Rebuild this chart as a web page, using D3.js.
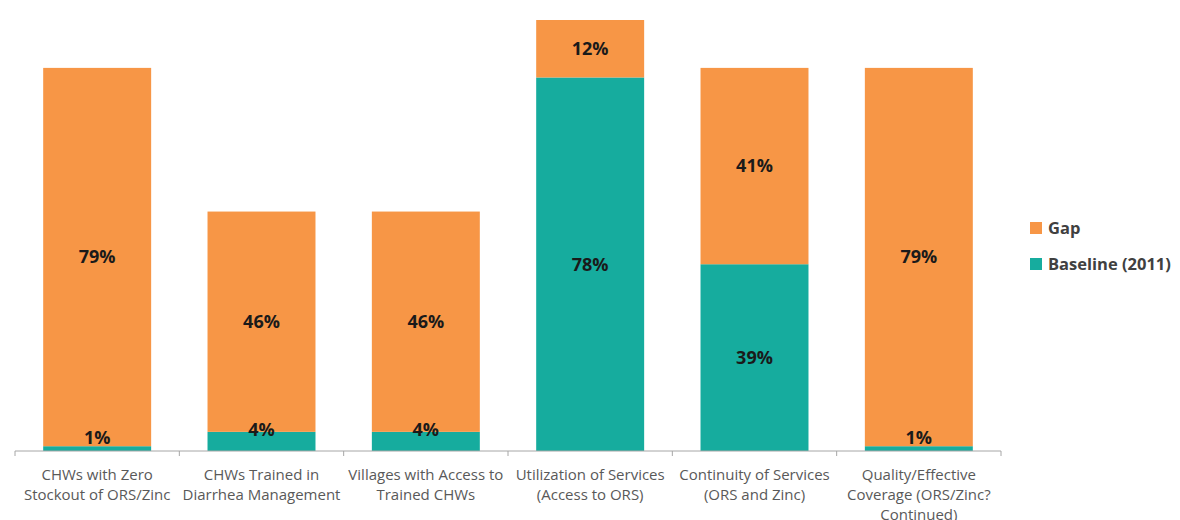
<!DOCTYPE html>
<html>
<head>
<meta charset="utf-8">
<script src="https://cdn.jsdelivr.net/npm/d3@7"></script>
<style>
	body { margin: 0; background: #fff; }
	svg { display: block; font-family: "Open Sans", sans-serif; }
	.c-stack__axis-text { fill: #595959; font-size: 15px; }
	.c-stack__value { fill: #1a1a1a; font-size: 18px; font-weight: bold; }
	.c-stack__legend-text { fill: #404040; font-size: 16.5px; font-weight: bold; }
</style>
</head>
<body>
<svg id="chart" width="1180" height="520"></svg>
<script>
// categories, each split into the lines shown under the axis
var categories = [
	["CHWs with Zero", "Stockout of ORS/Zinc"],
	["CHWs Trained in", "Diarrhea Management"],
	["Villages with Access to", "Trained CHWs"],
	["Utilization of Services", "(Access to ORS)"],
	["Continuity of Services", "(ORS and Zinc)"],
	["Quality/Effective", "Coverage (ORS/Zinc?", "Continued)"]
];
var baseline = [1, 4, 4, 78, 39, 1];
var gap = [79, 46, 46, 12, 41, 79];
var seriesNames = ["Gap", "Baseline (2011)"];
var colors = {"Gap": "#F79646", "Baseline (2011)": "#16AC9E"};

var classPrefix = "c-stack";
var svg = d3.select("#chart");

var margin = {left: 15, right: 179, axisY: 451, top: 20};
var keys = categories.map(function(d){ return d.join(" "); });

var xScale = d3.scaleBand()
	.domain(keys)
	.range([margin.left, 1180 - margin.right])
	.paddingInner(0.343)
	.paddingOuter(0.1715);

var yScale = d3.scaleLinear()
	.domain([0, 90])
	.range([margin.axisY, margin.top]);

var rows = keys.map(function(k, i){
	return {key: k, "Baseline (2011)": baseline[i], "Gap": gap[i]};
});

var stacked = d3.stack().keys(["Baseline (2011)", "Gap"])(rows);

//Draw bars
var layers = svg.append("g")
	.attr("class", classPrefix + "__bars")
	.selectAll("g")
	.data(stacked)
	.enter().append("g")
	.attr("fill", function(d){ return colors[d.key]; });

layers.selectAll("rect")
	.data(function(d){ return d; })
	.enter().append("rect")
	.attr("x", function(d){ return xScale(d.data.key); })
	.attr("y", function(d){ return yScale(d[1]); })
	.attr("width", xScale.bandwidth())
	.attr("height", function(d){ return yScale(d[0]) - yScale(d[1]); });

//Value labels, drawn on top of every bar
var segments = [];
stacked.forEach(function(layer){
	layer.forEach(function(d){ segments.push(d); });
});

svg.append("g")
	.attr("class", classPrefix + "__values")
	.selectAll("text")
	.data(segments)
	.enter().append("text")
	.attr("class", classPrefix + "__value")
	.attr("text-anchor", "middle")
	.attr("dy", "0.35em")
	.attr("x", function(d){ return xScale(d.data.key) + xScale.bandwidth() / 2; })
	.attr("y", function(d){
		var mid = (yScale(d[0]) + yScale(d[1])) / 2;
		var h = yScale(d[0]) - yScale(d[1]);
		//thin segments: label is pushed up above the axis like in Excel
		if (h < 25) return margin.axisY - 13 - Math.max(0, h - 11);
		return mid;
	})
	.text(function(d){ return (d[1] - d[0]) + "%"; });

//Axis
var xAxis = d3.axisBottom(xScale).tickSize(0).tickFormat("");
var axisG = svg.append("g")
	.attr("transform", "translate(0," + margin.axisY + ")")
	.call(xAxis);
axisG.select(".domain").attr("stroke", "#A6A6A6").attr("d", "M" + margin.left + ",0H" + (1180 - margin.right));

//Tick marks at band boundaries
var step = xScale.step();
var bounds = d3.range(keys.length + 1).map(function(i){ return margin.left + i * step; });
axisG.selectAll(".bound")
	.data(bounds)
	.enter().append("line")
	.attr("x1", function(d){ return d; })
	.attr("x2", function(d){ return d; })
	.attr("y1", 0)
	.attr("y2", 5)
	.attr("stroke", "#A6A6A6");

//Category labels
svg.append("g").selectAll("text")
	.data(categories)
	.enter().append("text")
	.attr("class", classPrefix + "__axis-text")
	.attr("text-anchor", "middle")
	.attr("transform", function(d, i){
		return "translate(" + (xScale(keys[i]) + xScale.bandwidth() / 2) + "," + (margin.axisY + 29) + ")";
	})
	.selectAll("tspan")
	.data(function(d){ return d; })
	.enter().append("tspan")
	.attr("x", 0)
	.attr("y", function(d, i){ return i * 20; })
	.text(function(d){ return d; });

//Legend
var legend = svg.append("g")
	.attr("transform", "translate(1030,222)");
var items = legend.selectAll("g")
	.data(seriesNames)
	.enter().append("g")
	.attr("transform", function(d, i){ return "translate(0," + (i * 36) + ")"; });
items.append("rect")
	.attr("width", 12)
	.attr("height", 12)
	.attr("fill", function(d){ return colors[d]; });
items.append("text")
	.attr("class", classPrefix + "__legend-text")
	.attr("x", 18)
	.attr("y", 6)
	.attr("dy", "0.35em")
	.text(function(d){ return d; });
</script>
</body>
</html>
